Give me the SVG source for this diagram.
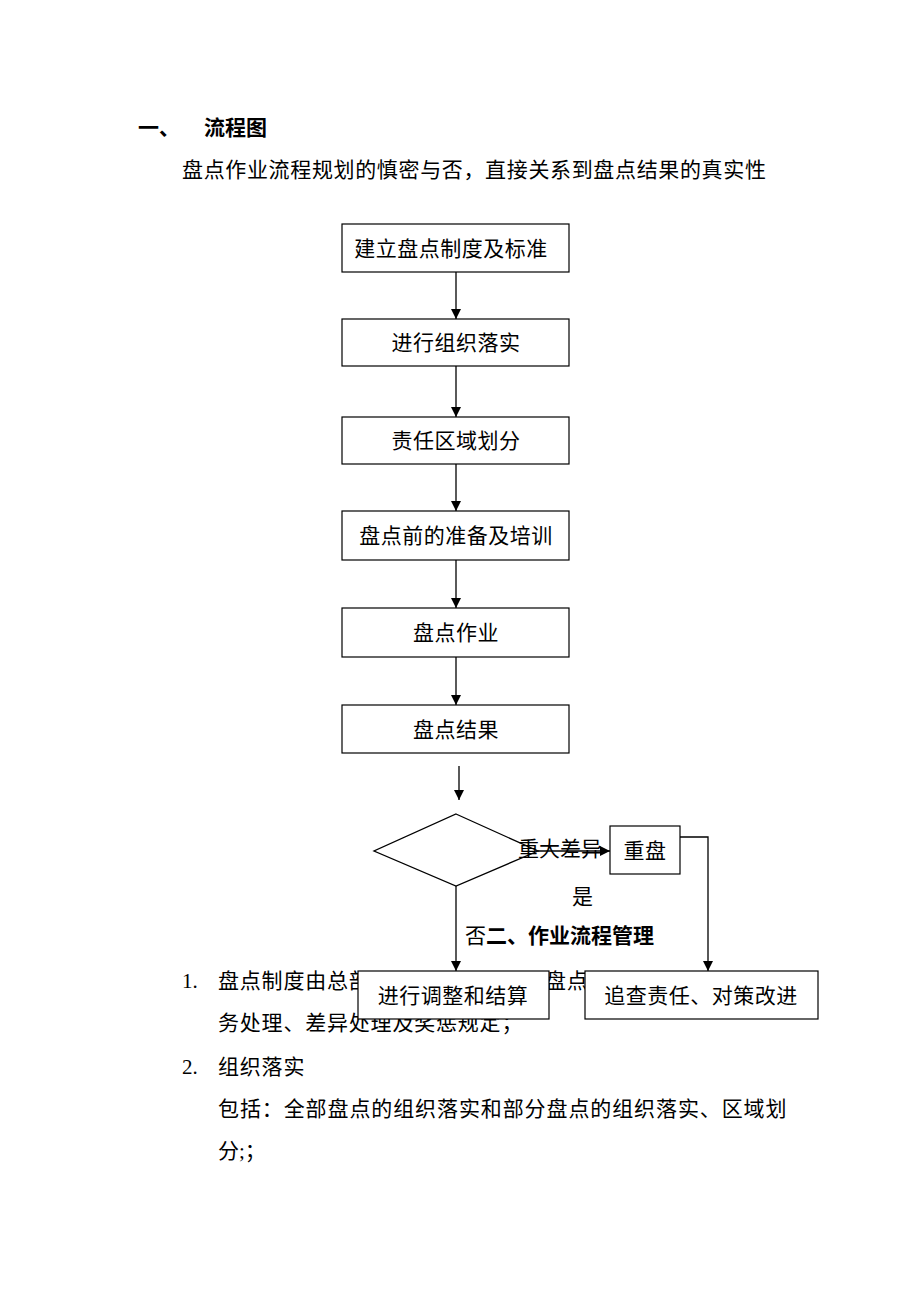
<svg xmlns="http://www.w3.org/2000/svg" width="920" height="1302" viewBox="0 0 920 1302">
<style>
text{font-family:"Liberation Serif","Noto Sans CJK SC",serif;font-size:21px;fill:#000}
.b{font-weight:bold}
.box{fill:#fff;stroke:#000;stroke-width:1.2}
.c{text-anchor:middle}
.ln{fill:none;stroke:#000;stroke-width:1.3}
</style>
<defs>
<marker id="ah" viewBox="0 0 10 10" refX="10" refY="5" markerWidth="10" markerHeight="10" markerUnits="userSpaceOnUse" orient="auto">
<path d="M0,0 L10,5 L0,10 z" fill="#000"/>
</marker>
</defs>
<rect width="920" height="1302" fill="#fff"/>
<g id="heading">
<text x="138" y="135" class="b">一、</text>
<text x="204" y="135" class="b">流程图</text>
<text x="182" y="177" letter-spacing="0.65">盘点作业流程规划的慎密与否，直接关系到盘点结果的真实性</text>
</g>
<g id="body">
<text x="182" y="988">1.</text>
<text x="218" y="988" letter-spacing="0.8">盘点制度由总部</text>
<text x="545" y="988" letter-spacing="0.8">盘点</text>
<text x="218" y="1030" letter-spacing="0.8">务处理、差异处理及奖惩规定；</text>
<text x="182" y="1074">2.</text>
<text x="218" y="1074" letter-spacing="0.8">组织落实</text>
<text x="218" y="1116" letter-spacing="0.9">包括：全部盘点的组织落实和部分盘点的组织落实、区域划</text>
<text x="218" y="1158">分;；</text>
</g>
<g id="connectors">
<line class="ln" x1="456" y1="272" x2="456" y2="319" marker-end="url(#ah)"/>
<line class="ln" x1="456" y1="366" x2="456" y2="417" marker-end="url(#ah)"/>
<line class="ln" x1="456" y1="464" x2="456" y2="511" marker-end="url(#ah)"/>
<line class="ln" x1="456" y1="560" x2="456" y2="608" marker-end="url(#ah)"/>
<line class="ln" x1="456" y1="657" x2="456" y2="705" marker-end="url(#ah)"/>
<line class="ln" x1="459" y1="766" x2="459" y2="800" marker-end="url(#ah)"/>
<line class="ln" x1="538" y1="851" x2="610" y2="851" marker-end="url(#ah)"/>
<polyline class="ln" points="680,837 708,837 708,971" marker-end="url(#ah)"/>
<line class="ln" x1="456" y1="886" x2="456" y2="971" marker-end="url(#ah)"/>
</g>
<g id="n1"><rect class="box" x="342" y="224" width="227" height="48"/><text x="451" y="256" class="c" letter-spacing="0.5">建立盘点制度及标准</text></g>
<g id="n2"><rect class="box" x="342" y="319" width="227" height="47"/><text x="456" y="350" class="c" letter-spacing="0.5">进行组织落实</text></g>
<g id="n3"><rect class="box" x="342" y="417" width="227" height="47"/><text x="456" y="448" class="c" letter-spacing="0.5">责任区域划分</text></g>
<g id="n4"><rect class="box" x="342" y="511" width="227" height="49"/><text x="456" y="543" class="c" letter-spacing="0.5">盘点前的准备及培训</text></g>
<g id="n5"><rect class="box" x="342" y="608" width="227" height="49"/><text x="456" y="640" class="c" letter-spacing="0.5">盘点作业</text></g>
<g id="n6"><rect class="box" x="342" y="705" width="227" height="48"/><text x="456" y="737" class="c" letter-spacing="0.5">盘点结果</text></g>
<g id="decision"><polygon class="ln" points="456,814 538,851 456,886 374,851"/></g>
<g id="labels">
<text x="518" y="856">重大差异</text>
<text x="572" y="904">是</text>
<text x="465" y="943">否<tspan class="b">二、作业流程管理</tspan></text>
</g>
<g id="n7"><rect class="box" x="610" y="826" width="70" height="48"/><text x="645" y="858" class="c" letter-spacing="0.5">重盘</text></g>
<g id="n8"><rect class="box" x="358" y="971" width="191" height="48"/><text x="453" y="1003" class="c" letter-spacing="0.5">进行调整和结算</text></g>
<g id="n9"><rect class="box" x="585" y="971" width="233" height="48"/><text x="701" y="1003" class="c" letter-spacing="0.5">追查责任、对策改进</text></g>
</svg>
